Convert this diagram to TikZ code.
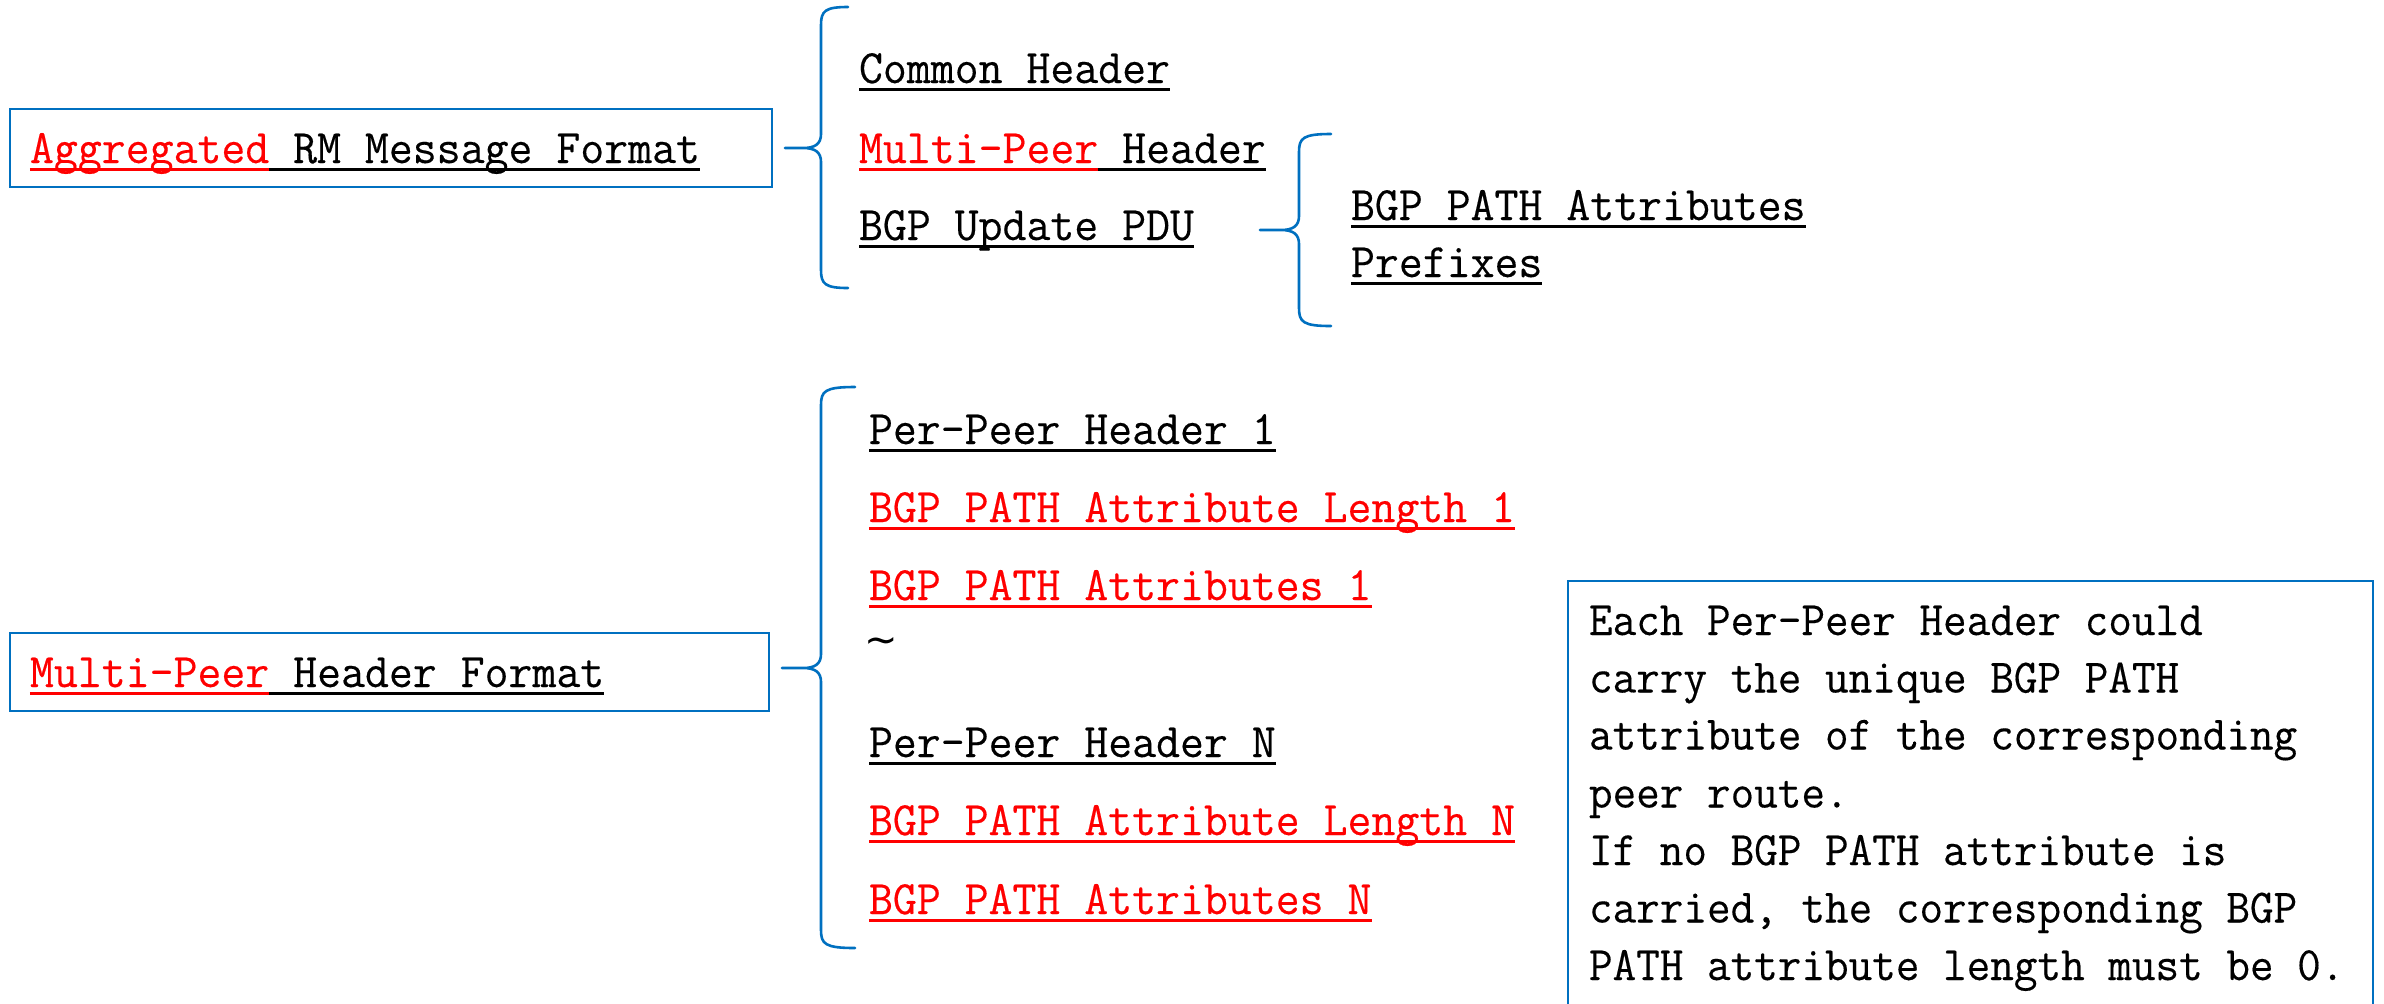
\documentclass[tikz,border=0pt]{standalone}
\usepackage{fontspec}
\newfontfamily\lblfam[Extension=.otf,FakeStretch=0.968,FakeBold=0.3]{lmmono12-regular}
\newfontfamily\notefam[Extension=.otf,FakeStretch=0.955,FakeBold=0.3]{lmmono12-regular}
\newfontfamily\tildefont{DejaVu Sans}
\definecolor{bblue}{RGB}{0,112,192}
\newcommand\ulseg[1]{\setbox0\hbox{#1}\rlap{\rule[-4pt]{\wd0}{1.5pt}}\box0}
\newcommand\monofont{\lblfam\fontsize{24}{28.65}\selectfont}
\newcommand\notefont{\notefam\fontsize{24}{28.65}\selectfont}
% #1 tip x, #2 tip y, #3 vertical x, #4 top y, #5 bottom y, #6 end x
\newcommand\bracedraw[6]{%
  \draw[bracestyle] (#6,#4) .. controls ({#3+4},{#4}) and (#3,{#4+4}) .. (#3,{#4+18})
    -- (#3,{#2-14}) .. controls (#3,{#2-4}) and ({#3-6},{#2}) .. ({#3-18},{#2}) -- (#1,#2)
    -- ({#3-18},{#2}) .. controls ({#3-6},{#2}) and (#3,{#2+4}) .. (#3,{#2+14})
    -- (#3,{#5-18}) .. controls (#3,{#5-4}) and ({#3+4},{#5}) .. (#6,#5);}
\begin{document}
\begin{tikzpicture}[x=0.5pt,y=-0.5pt,
  every node/.style={inner sep=0pt, outer sep=0pt},
  lbl/.style={anchor=base west, font=\monofont},
  note/.style={anchor=base west, font=\notefont},
  bx/.style={draw=bblue, line width=1.25pt, anchor=north west},
  bracestyle/.style={draw=bblue, line width=1.3pt, line join=round, line cap=round}]
\clip (0,0) rectangle (2384,1003);
\fill[white] (0,0) rectangle (2384,1003);

% ---- Aggregated RM message format
\node[bx, minimum width=381pt, minimum height=39pt] (box1) at (10,109) {};
\node[lbl] (t1) at (30,163) {{\color{red}\ulseg{Aggregated}}\ulseg{\ RM Message Format}};
\bracedraw{785}{148}{821}{7}{288}{848}
\node[lbl] (c1) at (859,83) {\ulseg{Common Header}};
\node[lbl] (c2) at (859,163) {{\color{red}\ulseg{Multi-Peer}}\ulseg{\ Header}};
\node[lbl] (c3) at (859,240) {\ulseg{BGP Update PDU}};
\bracedraw{1260}{230}{1299}{134}{326}{1331}
\node[lbl] (d1) at (1351,220) {\ulseg{BGP PATH Attributes}};
\node[lbl] (d2) at (1351,277) {\ulseg{Prefixes}};

% ---- Multi-Peer header format
\node[bx, minimum width=379.5pt, minimum height=39pt] (box2) at (10,633) {};
\node[lbl] (t2) at (30,687) {{\color{red}\ulseg{Multi-Peer}}\ulseg{\ Header Format}};
\bracedraw{782}{668}{821}{387}{948}{855}
\node[lbl] (p1) at (869,444) {\ulseg{Per-Peer Header 1}};
\node[lbl, text=red] (p2) at (869,522) {\ulseg{BGP PATH Attribute Length 1}};
\node[lbl, text=red] (p3) at (869,600) {\ulseg{BGP PATH Attributes 1}};
\node (tl) at (881,645) {\tildefont\fontsize{20}{22}\selectfont ∼};
\node[lbl] (p4) at (869,757) {\ulseg{Per-Peer Header N}};
\node[lbl, text=red] (p5) at (869,835) {\ulseg{BGP PATH Attribute Length N}};
\node[lbl, text=red] (p6) at (869,914) {\ulseg{BGP PATH Attributes N}};

% ---- note box
\node[bx, minimum width=402.5pt, minimum height=240pt] (box3) at (1568,581) {};
\node[note] (n1) at (1589,635) {Each Per-Peer Header could};
\node[note] (n2) at (1589,692.5) {carry the unique BGP PATH};
\node[note] (n3) at (1589,749.5) {attribute of the corresponding};
\node[note] (n4) at (1589,807.5) {peer route.};
\node[note] (n5) at (1589,865) {If no BGP PATH attribute is};
\node[note] (n6) at (1589,922.5) {carried, the corresponding BGP};
\node[note] (n7) at (1589,980) {PATH attribute length must be 0.};
\end{tikzpicture}
\end{document}
